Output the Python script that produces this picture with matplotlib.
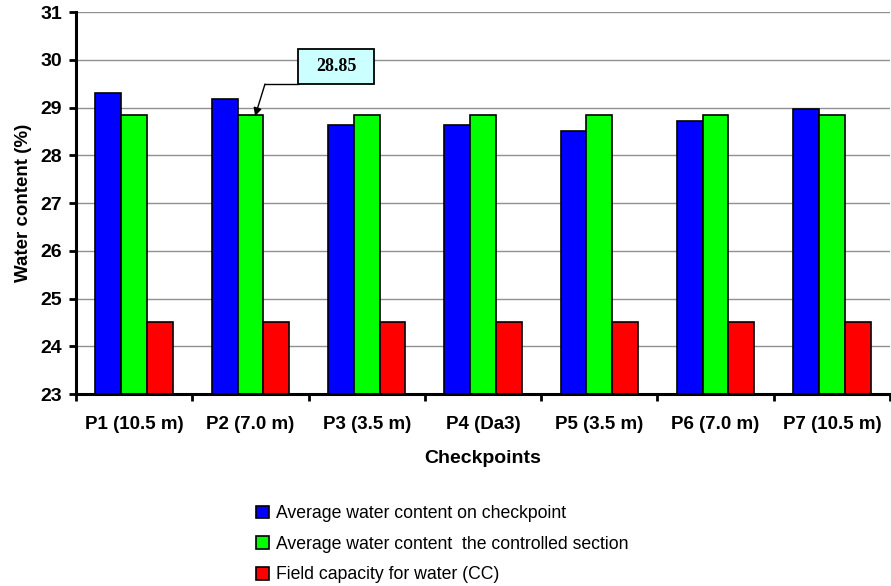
import matplotlib.pyplot as plt
import matplotlib.patches as mpatches
import numpy as np

plt.rcParams['font.family'] = ['Liberation Sans', 'DejaVu Sans']

# data
checkpoints = ['P1 (10.5 m)', 'P2 (7.0 m)', 'P3 (3.5 m)', 'P4 (Da3)',
               'P5 (3.5 m)', 'P6 (7.0 m)', 'P7 (10.5 m)']
avg_checkpoint = [29.30, 29.18, 28.63, 28.63, 28.50, 28.72, 28.96]
avg_section = [28.85, 28.85, 28.85, 28.85, 28.85, 28.85, 28.85]
field_capacity = [24.5, 24.5, 24.5, 24.5, 24.5, 24.5, 24.5]
series_names = ['Average water content on checkpoint',
                'Average water content  the controlled section',
                'Field capacity for water (CC)']
colors = ['#0000FF', '#00FF00', '#FF0000']

fig = plt.figure(figsize=(8.91, 5.86), dpi=100)
ax = fig.add_axes([0.0853, 0.3276, 0.9136, 0.6519])

x = np.arange(len(checkpoints))
w = 0.222
for k, vals in enumerate([avg_checkpoint, avg_section, field_capacity]):
    ax.bar(x + (k - 1) * w, vals, w, bottom=0, color=colors[k],
           edgecolor='black', linewidth=1.2, label=series_names[k], zorder=3)

ax.set_ylim(23, 31)
ax.set_xlim(-0.5, len(checkpoints) - 0.5)
ax.set_yticks(range(23, 32))
ax.yaxis.grid(True, color='#909090', linewidth=1, zorder=0)
ax.axhline(31, color='#404040', linewidth=1.2, zorder=1)

ax.set_xticks(x)
ax.set_xticklabels(checkpoints, fontsize=13.5, fontweight='bold')
ax.set_xticks(np.arange(-0.5, len(checkpoints), 1), minor=True)
ax.tick_params(axis='x', which='major', length=0, pad=16)
ax.tick_params(axis='x', which='minor', length=5, width=2, direction='out')
ax.tick_params(axis='y', length=5, width=2, direction='out', labelsize=14, pad=5)
for t in ax.get_yticklabels():
    t.set_fontweight('bold')

for s in ['top', 'right']:
    ax.spines[s].set_visible(False)
ax.spines['left'].set_linewidth(2.2)
ax.spines['bottom'].set_linewidth(2.2)
ax.spines['bottom'].set_zorder(4)

ax.set_xlabel('Checkpoints', fontsize=14, fontweight='bold', labelpad=12)
ax.set_ylabel('Water content (%)', fontsize=13.5, fontweight='bold', labelpad=6)

# callout box with bent arrow pointing at P2 section value
box_x, box_y, box_w, box_h = 1.409, 29.49, 0.653, 0.735
ax.add_patch(mpatches.Rectangle((box_x, box_y), box_w, box_h, fc='#CCFFFF',
                                ec='black', lw=1.3, zorder=6))
ax.text(box_x + box_w / 2, box_y + box_h / 2, '28.85', fontsize=13,
        fontweight='bold', family='Liberation Serif', ha='center',
        va='center', zorder=7)
ax.plot([box_x, 1.125], [box_y, box_y], color='black', lw=1, zorder=5)
ax.annotate('', xy=(1.04, avg_section[1] - 0.03), xytext=(1.125, box_y),
            arrowprops=dict(arrowstyle='-|>', color='black', lw=1,
                            shrinkA=0, shrinkB=0, mutation_scale=12),
            zorder=5)

handles = [mpatches.Patch(facecolor=c, edgecolor='black', linewidth=1.2) for c in colors]
fig.legend(handles, series_names, loc='upper left', bbox_to_anchor=(0.279, 0.150),
           frameon=False, fontsize=12.7, handlelength=0.75, handleheight=0.75,
           handletextpad=0.4, labelspacing=0.77, borderaxespad=0)

fig.savefig('out.png', dpi=100)
